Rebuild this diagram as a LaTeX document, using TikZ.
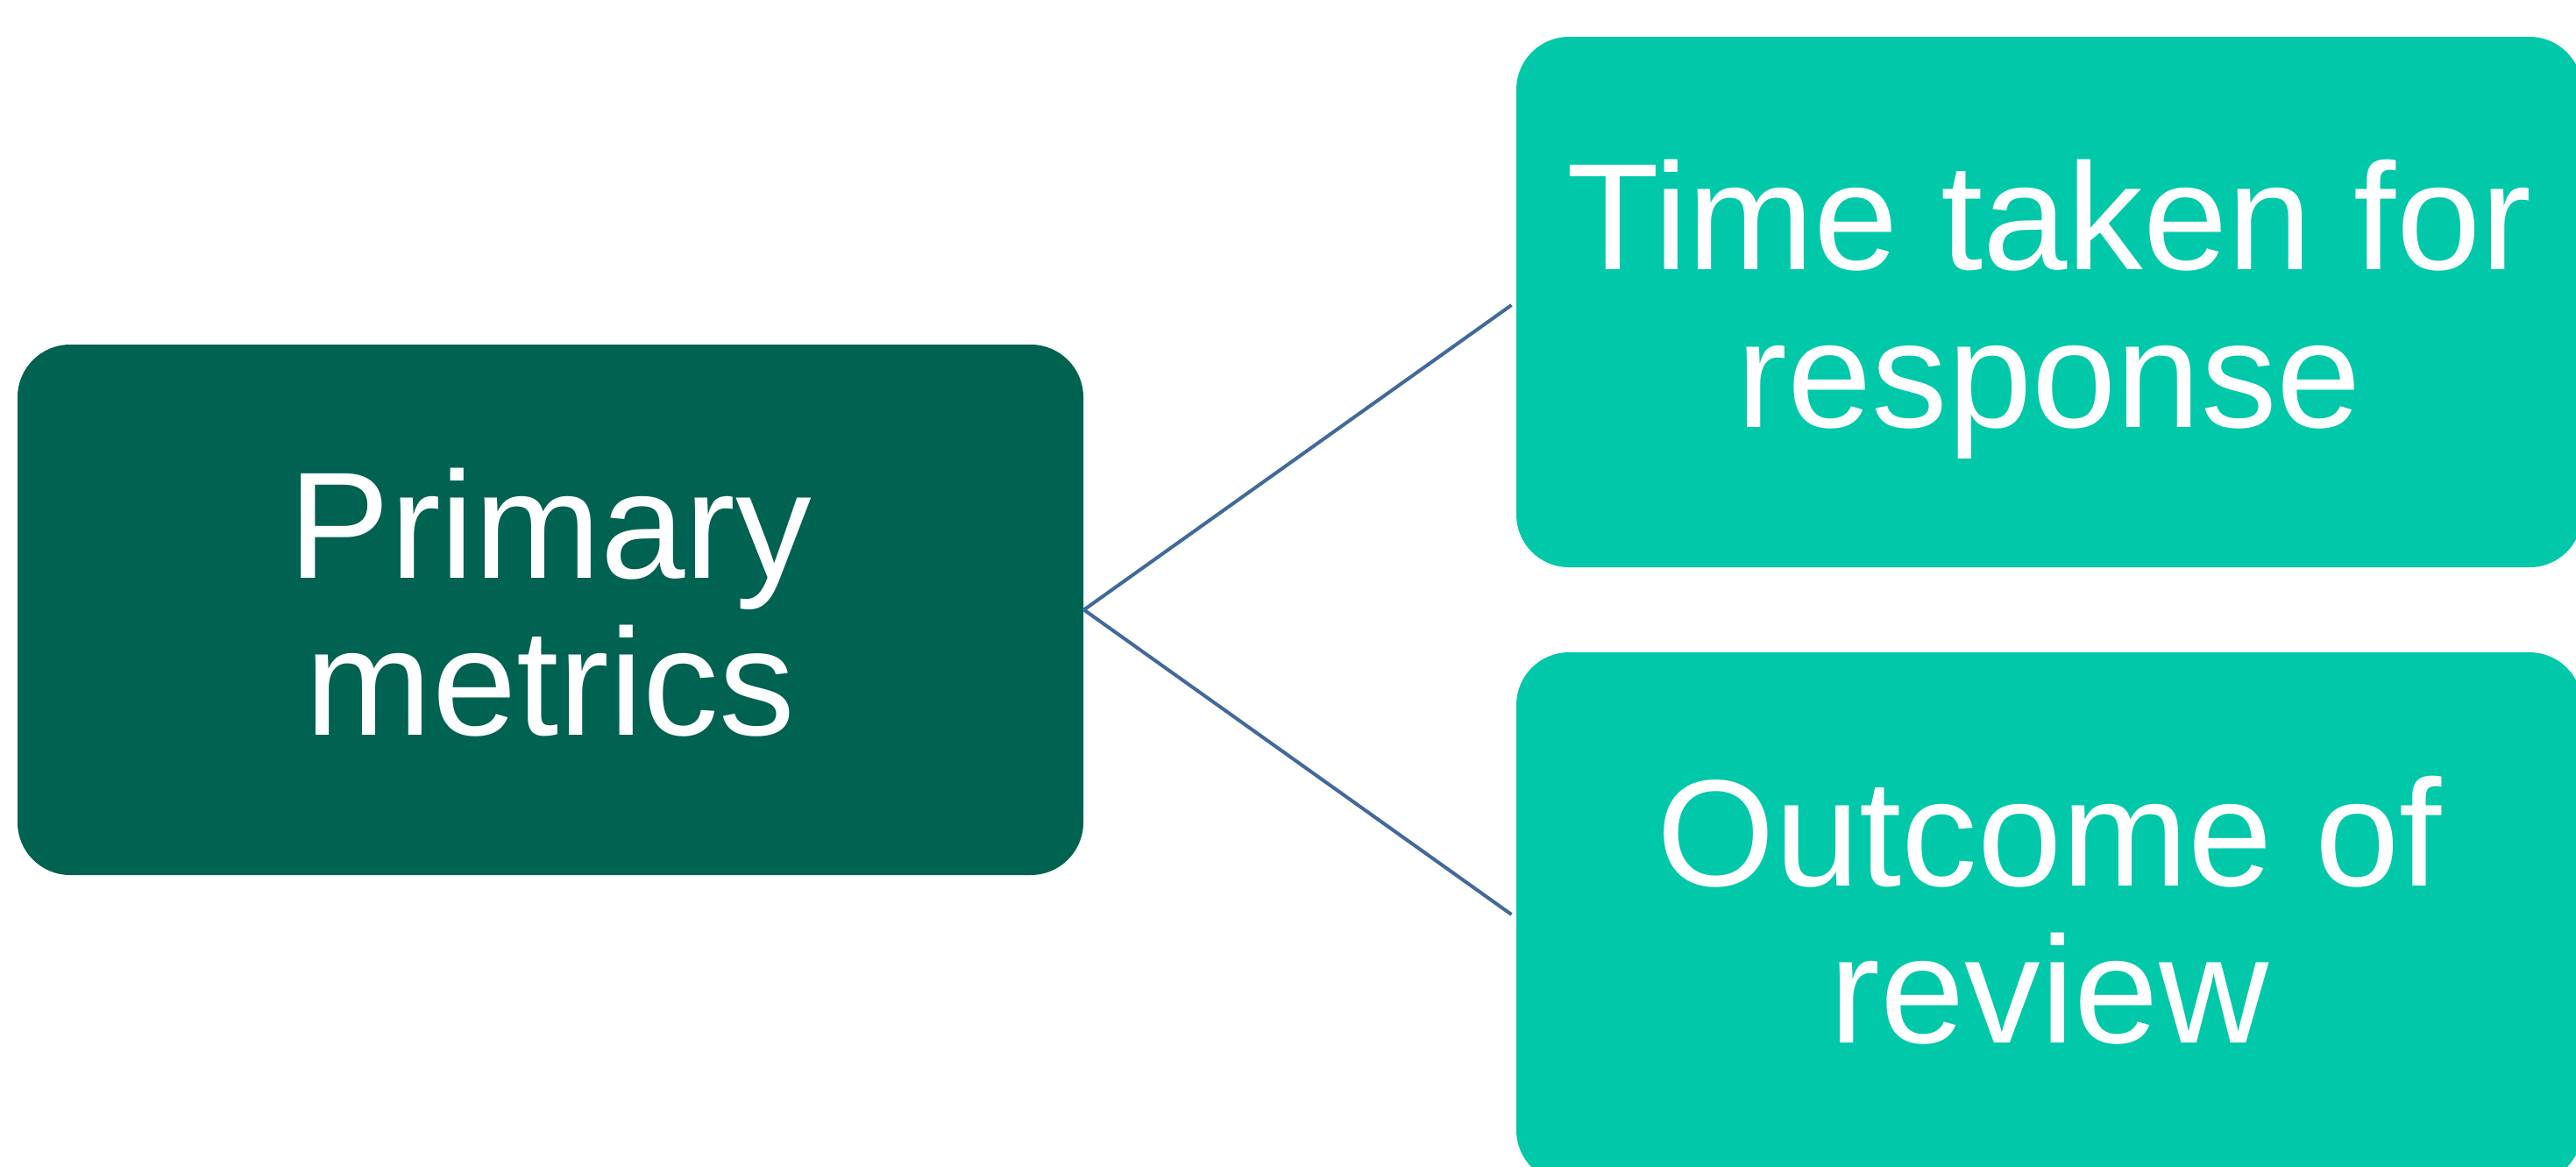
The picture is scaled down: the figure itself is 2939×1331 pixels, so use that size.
\documentclass[tikz,border=0pt]{standalone}
\usepackage{fontspec}
\setmainfont{Liberation Sans}
\usetikzlibrary{calc}
\definecolor{darkgreen}{RGB}{0,98,81}
\definecolor{tealbox}{RGB}{2,200,170}
\definecolor{linkblue}{RGB}{65,105,156}
\begin{document}
\begin{tikzpicture}[x=0.3pt,y=-0.3pt,
  box/.style={rectangle, rounded corners=18pt, minimum width=364.8pt, minimum height=181.5pt, inner sep=0pt, draw=none},
  lbl/.style={text=white, font=\fontsize{51.96pt}{54pt}\selectfont, inner sep=0pt, anchor=base},
  conn/.style={draw=linkblue, line width=1.2pt, shorten >=1.8pt}]
\useasboundingbox (0,0) rectangle (2939,1331);
\clip (0,0) rectangle (2939,1331);
\node[box, fill=darkgreen] (L) at (628,695.5) {};
\node[box, fill=tealbox] (T) at (2338,344.5) {};
\node[box, fill=tealbox] (B) at (2338,1046.5) {};
\draw[conn] (L.east) -- (T.west);
\draw[conn] (L.east) -- (B.west);
\node[lbl] (l1) at ($(L.center)+(0,-36.5)$) {Primary};
\node[lbl] (l2) at ($(L.center)+(0,143)$) {metrics};
\node[lbl] (t1) at ($(T.center)+(0,-36.5)$) {Time taken for};
\node[lbl] (t2) at ($(T.center)+(0,143)$) {response};
\node[lbl] (b1) at ($(B.center)+(0,-36.5)$) {Outcome of};
\node[lbl] (b2) at ($(B.center)+(0,143)$) {review};
\end{tikzpicture}
\end{document}
